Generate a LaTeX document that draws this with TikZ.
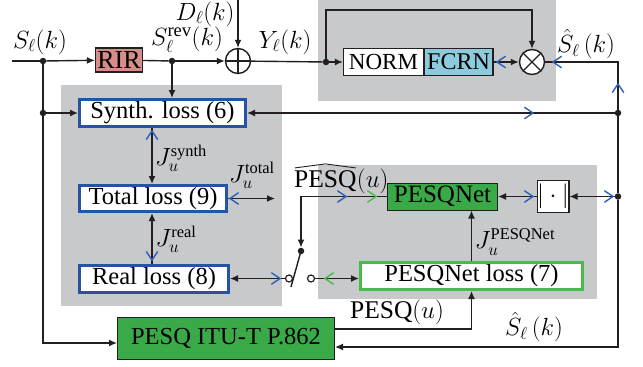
\documentclass[tikz,border=0pt]{standalone}
\usepackage{amsmath}
\usepackage{fontspec}
\setmainfont{Liberation Serif}
\usetikzlibrary{arrows.meta,calc}
\definecolor{gbg}{RGB}{200,201,203}
\definecolor{lblue}{RGB}{38,84,164}
\definecolor{bblue}{RGB}{45,95,185}
\definecolor{gfill}{RGB}{58,170,72}
\definecolor{gline}{RGB}{72,186,76}
\definecolor{rir}{RGB}{214,140,136}
\definecolor{fcrn}{RGB}{139,203,219}
\definecolor{dark}{RGB}{35,31,32}
\tikzset{
  ln/.style={line width=1.4pt, draw=dark},
  lossbox/.style={draw=lblue, line width=3pt, fill=white, inner sep=0pt},
  pnlbox/.style={draw=gline, line width=3pt, fill=white, inner sep=0pt},
  gbox/.style={draw=dark, line width=1pt, fill=gfill, inner sep=0pt},
  plain/.style={draw=dark, line width=1.2pt, fill=white, inner sep=0pt},
  dotnode/.style={circle, fill=dark, inner sep=0pt, minimum size=6.5pt},
  contact/.style={circle, draw=dark, fill=white, line width=1.2pt, inner sep=0pt, minimum size=7pt},
  opnode/.style={circle, draw=dark, fill=white, line width=1.4pt, inner sep=0pt, minimum size=25pt},
  lbl/.style={inner sep=0pt},
  biglbl/.style={inner sep=0pt, font=\fontsize{26.5}{30}\selectfont},
  jlbl/.style={inner sep=0pt, font=\fontsize{23.5}{27}\selectfont},
  graybg/.style={fill=gbg, draw=none}
}
\newcommand\chev[3]{\draw[draw=#3,line width=1.4pt,line cap=round,line join=miter] ([shift={(#2+146:10pt)}]#1) -- (#1) -- ([shift={(#2-146:10pt)}]#1);}
\begin{document}
\begin{tikzpicture}[x=1pt,y=-1pt,font=\fontsize{24.5}{28}\selectfont,>={Latex[length=8pt,width=7pt]}]
\useasboundingbox (0,0) rectangle (643,367);
% gray backgrounds
\fill[graybg] (318,0) rectangle (556,101);
\fill[graybg] (61,85) rectangle (282,306);
\fill[graybg] (318,165) rectangle (597,299);

% boxes
\node[lossbox,minimum width=166pt,minimum height=27pt] (synth) at (162.5,113) {Synth. loss (6)};
\node[lossbox,minimum width=147pt,minimum height=26pt] (total) at (153,198.5) {Total loss (9)};
\node[lossbox,minimum width=149pt,minimum height=27pt] (real) at (154,278.5) {Real loss (8)};
\node[pnlbox,minimum width=222pt,minimum height=27pt] (pnl) at (471.5,276) {PESQNet loss (7)};
\node[gbox,minimum width=110pt,minimum height=27pt,font=\fontsize{25}{28}\selectfont] (pnet) at (442.5,196.5) {PESQNet};
\node[gbox,minimum width=217pt,minimum height=42pt] (itu) at (226,338.5) {PESQ ITU-T P.862};
\node[plain,minimum width=31pt,minimum height=32pt] (abs) at (553,196.5) {$|\cdot|$};
\node[plain,fill=rir,minimum width=47pt,minimum height=24pt,font=\fontsize{26}{28}\selectfont] (rir) at (119,60) {RIR};
\node[plain,minimum width=80pt,minimum height=27pt,font=\fontsize{23}{26}\selectfont] (norm) at (383.5,62) {NORM};
\node[plain,fill=fcrn,minimum width=69pt,minimum height=27pt,font=\fontsize{24}{26}\selectfont] (fcrn) at (458.5,62) {FCRN};
\node[opnode] (sum) at (238,61) {};
\draw[ln] (sum.north) -- (sum.south) (sum.west) -- (sum.east);
\node[opnode] (mult) at (532,62) {};
\draw[ln] (mult.north west) -- (mult.south east) (mult.south west) -- (mult.north east);

% dots and coordinates
\coordinate (in) at (12,61);
\node[dotnode] (d1) at (43,61) {};
\node[dotnode] (d2) at (172,61) {};
\node[dotnode] (d3) at (326,62) {};
\node[dotnode] (dL) at (43,113) {};
\node[dotnode] (d4) at (618,113) {};
\node[dotnode] (d5) at (618,196.5) {};
\coordinate (Dtop) at (238,0);
\coordinate (fb) at (532,10);
\coordinate (cR) at (618,62);
\coordinate (cBR) at (618,347);
\coordinate (cBL) at (43,343);
\coordinate (tout) at (275,198.5);
\coordinate (ituo) at (335,329);
\coordinate (jx) at (152,0);

% switch
\node[dotnode] (swT) at (301,251) {};
\draw[ln] (swT.center) -- (291,287);
\node[contact] (swL) at (289,278.5) {};
\node[contact] (swR) at (311,278.5) {};

% connectors
\draw[ln] (in) -- (d1);
\draw[ln,->] (d1) -- (rir);
\draw[ln] (rir) -- (d2);
\draw[ln,->] (d2) -- (sum);
\draw[ln,->] (d2) -- (d2 |- synth.north);
\draw[ln,->] (Dtop) -- (sum);
\draw[ln] (sum) -- (d3);
\draw[ln,->] (d3) -- (norm);
\draw[ln,->] (d3) |- (fb) -- (mult);
\draw[ln,->] (fcrn) -- (mult);
\draw[ln] (mult) -- (cR) -- (d4);
\draw[ln] (d4) -- (d5);
\draw[ln,->] (d5) -- (cBR) -- (itu.east |- cBR);
\draw[ln,->] (d4) -- (synth);
\draw[ln] (d1) -- (dL);
\draw[ln,->] (dL) -- (synth);
\draw[ln,->] (dL) -- (cBL) -- (itu.west |- cBL);
\draw[ln,->] (synth.south -| jx) -- (total.north -| jx);
\draw[ln,<-] (total.south -| jx) -- (real.north -| jx);
\draw[ln,->] (total) -- (tout);
\draw[ln,<-] (real) -- (swL);
\draw[ln,->] (swR) -- (swR -| pnl.west);
\draw[ln,->] (itu.east |- ituo) -| (pnl.south);
\draw[ln,->] (pnl.north) -- (pnl.north |- pnet.south);
\draw[ln,->] (pnet.west) -| (swT);
\draw[ln,<-] (pnet) -- (abs);
\draw[ln,<-] (abs) -- (d5);

% backward (blue) and green chevrons
\chev{497,62}{180}{bblue}
\chev{553,62}{180}{bblue}
\chev{618,84}{90}{bblue}
\chev{533,113}{0}{bblue}
\chev{152,131}{90}{bblue}
\chev{230,198.5}{180}{bblue}
\chev{152,260}{-90}{bblue}
\chev{280,278.5}{0}{bblue}
\chev{346,196.5}{0}{bblue}
\chev{376,196.5}{0}{gline}
\chev{325,278.5}{180}{gline}
\chev{533,196.5}{0}{bblue}
\chev{613,196.5}{0}{bblue}

% labels
\node[biglbl] (lS) at (40,42) {$S_\ell(k)$};
\node[biglbl] (lD) at (205,14) {$D_\ell(k)$};
\node[biglbl] (lSr) at (187,40) {$S_\ell^{\text{rev}}(k)$};
\node[biglbl] (lY) at (285,42) {$Y_\ell(k)$};
\node[biglbl] (lSh) at (586,44) {$\hat{S}_\ell\,(k)$};
\node[jlbl] (lJs) at (181,158) {$J_u^{\text{synth}}$};
\node[jlbl] (lJt) at (252,175) {$J_u^{\text{total}}$};
\node[jlbl] (lJr) at (176,239) {$J_u^{\text{real}}$};
\node[jlbl] (lJp) at (515,242) {$J_u^{\text{PESQNet}}$};
\node[lbl,font=\fontsize{25.5}{28}\selectfont] (lP) at (397,312) {PESQ$(u)$};
\node[biglbl] (lSh2) at (534,327) {$\hat{S}_\ell\,(k)$};
\node[lbl,anchor=base west,font=\fontsize{25.5}{28}\selectfont] (phw) at (294,187) {PESQ};
\node[lbl,anchor=base west,font=\fontsize{25.5}{28}\selectfont] (phu) at (phw.base east) {$(u)$};
\draw[line width=0.9pt,draw=dark] ([shift={(1pt,2pt)}]phw.north west) -- ([shift={(0,6pt)}]phw.north) -- ([shift={(-1pt,2pt)}]phw.north east);
\end{tikzpicture}
\end{document}
